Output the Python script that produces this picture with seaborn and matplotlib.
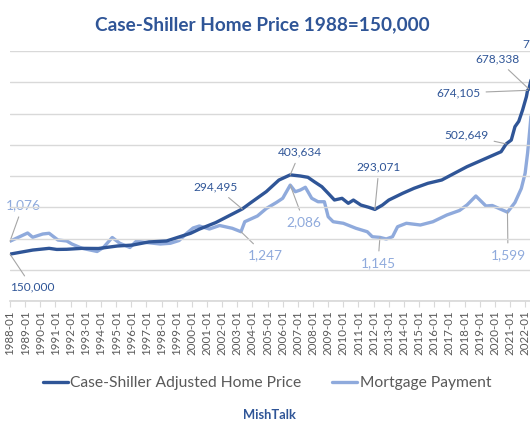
import matplotlib
matplotlib.use("Agg")
import matplotlib.pyplot as plt
import matplotlib.dates as mdates
import seaborn as sns
import pandas as pd

# ---------------- data ----------------
cs_dates = ["1988-01", "1989-07", "1990-08", "1991-02", "1991-10", "1992-10", "1993-11",
            "1995-02", "1996-02", "1997-03", "1998-05", "1999-03", "1999-12", "2000-07",
            "2001-08", "2002-09", "2003-05", "2003-11", "2004-12", "2005-10", "2006-07",
            "2007-03", "2007-09", "2008-02", "2008-08", "2009-01", "2009-06", "2009-12",
            "2010-05", "2010-09", "2011-03", "2011-09", "2012-02", "2012-08", "2013-01",
            "2013-12", "2014-09", "2015-08", "2016-07", "2017-05", "2018-03", "2018-12",
            "2019-09", "2020-06", "2020-10", "2021-02", "2021-05", "2021-08", "2021-11",
            "2022-02", "2022-03", "2022-04", "2022-06"]
cs_values = [150000, 163000, 168500, 165000, 165500, 168500, 168000,
             176000, 179000, 189000, 192000, 205000, 216500, 230000,
             251000, 278000, 294495, 312500, 350000, 387000, 403634,
             400000, 395800, 381700, 365800, 344600, 323200, 328600,
             312600, 323000, 307000, 300000, 293071, 307000, 323000,
             344600, 360600, 376600, 387200, 408600, 429800, 445800,
             461800, 477800, 502649, 515000, 557800, 575000, 611200,
             653800, 674105, 678338, 712000]

mp_dates = ["1988-01", "1988-06", "1989-03", "1989-07", "1990-03", "1990-08", "1991-03",
            "1991-10", "1992-02", "1992-10", "1993-10", "1994-03", "1994-10", "1995-04",
            "1995-12", "1996-05", "1997-01", "1997-12", "1998-08", "1999-03", "1999-09",
            "2000-02", "2000-07", "2001-03", "2001-11", "2002-09", "2003-04", "2003-07",
            "2004-05", "2004-12", "2005-08", "2006-01", "2006-07", "2006-11", "2007-03",
            "2007-07", "2007-12", "2008-05", "2008-10", "2009-01", "2009-05", "2010-01",
            "2010-11", "2011-08", "2011-12", "2012-06", "2012-11", "2013-04", "2013-08",
            "2014-03", "2015-02", "2015-12", "2016-11", "2017-09", "2018-03", "2018-10",
            "2019-06", "2019-11", "2020-11", "2021-05", "2021-10", "2022-01", "2022-03",
            "2022-04", "2022-06"]
mp_values = [1076, 1129, 1224, 1147, 1206, 1219, 1098,
             1080, 1026, 949, 891, 963, 1143, 1039,
             963, 1075, 1053, 1026, 1039, 1089, 1219,
             1314, 1350, 1296, 1359, 1309, 1247, 1427,
             1530, 1665, 1773, 1849, 2086, 1967, 1998,
             2047, 1849, 1787, 1787, 1517, 1427, 1399,
             1309, 1247, 1157, 1145, 1116, 1157, 1337,
             1399, 1368, 1427, 1548, 1629, 1728, 1890,
             1710, 1719, 1599, 1773, 2025, 2299, 2659,
             2898, 3400]

series_names = ["Case-Shiller Adjusted Home Price", "Mortgage Payment"]
title_text = "Case-Shiller Home Price 1988=150,000"
source_text = "MishTalk"

# labelled points
cs_labels = ["1988-01", "2003-05", "2006-07", "2012-02", "2020-10", "2022-03", "2022-04", "2022-06"]
mp_labels = ["1988-01", "2003-04", "2006-07", "2012-06", "2020-11"]

# ---------------- styling / layout ----------------
DARK = "#2F5597"
LIGHT = "#8FAADC"
GRAY = "#595959"
GRID = "#D9D9D9"
LEADER = "#A6A6A6"

W, H = 530, 442
sns.set_theme(style="white")
plt.rcParams["font.family"] = ["Lato", "DejaVu Sans"]

cs = pd.DataFrame({"date": pd.to_datetime(cs_dates), "value": cs_values})
mp = pd.DataFrame({"date": pd.to_datetime(mp_dates), "value": mp_values})

fig = plt.figure(figsize=(W / 100, H / 100), dpi=100)
renderer = fig.canvas.get_renderer()


def fit_size(text, target_px, base=10, weight="normal"):
    t = fig.text(0, 0, text, fontsize=base, fontweight=weight)
    w = t.get_window_extent(renderer).width
    t.remove()
    return base * target_px / w


px_per_year = 15.15
x0 = pd.Timestamp("1988-01-01")
x1 = pd.Timestamp("2022-10-01")
span_years = (x1 - x0).days / 365.25
ax_left, ax_bottom, ax_top = 10, 301, 51
ax = fig.add_axes([ax_left / W, (H - ax_bottom) / H,
                   span_years * px_per_year / W, (ax_bottom - ax_top) / H])
ax2 = ax.twinx()

sns.lineplot(data=mp, x="date", y="value", ax=ax2, color=LIGHT, lw=2.4,
             label=series_names[1], legend=False)
sns.lineplot(data=cs, x="date", y="value", ax=ax, color=DARK, lw=2.4,
             label=series_names[0], legend=False)
ax.set_zorder(ax2.get_zorder() + 1)
ax.patch.set_visible(False)

ax.set_ylim(0, 800000)
ax2.set_ylim(0, 4500)
ax.set_xlim(x0, x1)
ax.set_yticks(range(0, 800001, 100000))
ax.yaxis.grid(True, color=GRID, lw=1)
ax.set_axisbelow(True)
ax.tick_params(axis="y", left=False, labelleft=False)
ax2.set_yticks([])
for a in (ax, ax2):
    a.set_xlabel("")
    a.set_ylabel("")
    for s in ("top", "right", "left"):
        a.spines[s].set_visible(False)
    a.spines["bottom"].set_color(GRID)
ax2.spines["bottom"].set_visible(False)

ticks = pd.date_range("1988-01-01", "2022-01-01", freq="YS")
ax.set_xticks(ticks)
ax.xaxis.set_major_formatter(mdates.DateFormatter("%Y-%m"))
ax.tick_params(axis="x", direction="out", length=4, width=0.8, color=GRID,
               labelcolor=GRAY, labelsize=8.3, rotation=90, pad=3, bottom=True)

fig.text(262 / W, 1 - 25 / H, title_text, ha="center", va="center",
         fontsize=fit_size(title_text, 335, weight="bold"), fontweight="bold", color=DARK)
fig.text(269 / W, 1 - 415 / H, source_text, ha="center", va="center",
         fontsize=fit_size(source_text, 53, weight="bold"), fontweight="bold", color=DARK)

leg_size = fit_size(series_names[0], 231)
handles = [ax.get_lines()[0], ax2.get_lines()[0]]
fig.legend(handles, series_names, loc="center", bbox_to_anchor=(267 / W, 1 - 383 / H),
           ncol=2, frameon=False, fontsize=leg_size, labelcolor=GRAY,
           handlelength=1.6, handletextpad=0.15, columnspacing=2.0)

# label text positions in figure pixels (from top-left)
cs_pos = [(32, 287), (216, 187), (300, 152), (379, 167), (466, 135), (458, 93), (497, 59), (545, 44)]
mp_pos = [(23, 205), (265, 255), (304, 222), (378, 263), (508, 255)]


def put_label(axis, df, date, tx, ty, color, size):
    row = df[df["date"] == pd.Timestamp(date)].iloc[0]
    axis.annotate(f"{row['value']:,}", xy=(row["date"], row["value"]),
                  xytext=(tx, H - ty), textcoords="figure pixels",
                  ha="center", va="center", color=color, fontsize=size,
                  annotation_clip=False, zorder=10,
                  arrowprops=dict(arrowstyle="-", color=LEADER, lw=0.8,
                                  shrinkA=2, shrinkB=0))


dark_size = fit_size("403,634", 44)
light_size = fit_size("2,086", 35)
for d, (tx, ty) in zip(cs_labels, cs_pos):
    put_label(ax, cs, d, tx, ty, DARK, dark_size)
for d, (tx, ty) in zip(mp_labels, mp_pos):
    put_label(ax2, mp, d, tx, ty, LIGHT, light_size)

fig.savefig("out.png", dpi=100)
